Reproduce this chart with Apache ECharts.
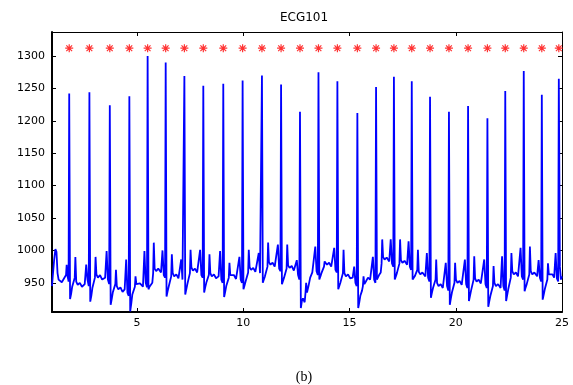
<!DOCTYPE html>
<html>
<head>
<meta charset="utf-8">
<script src="https://cdn.jsdelivr.net/npm/echarts@6/dist/echarts.min.js"></script>
<style>
html,body{margin:0;padding:0;background:#fff;}
#chart{width:573px;height:385px;}
</style>
</head>
<body>
<div id="chart"></div>
<script>
// ---- data ----
var chartTitle = 'ECG101';
var caption = '(b)';
var xRange = [1, 25];
var yRange = [905, 1337];

// detected R-peak times (seconds) -> red asterisk markers
var rTimes = [1.81, 2.76, 3.72, 4.64, 5.50, 6.35, 7.23, 8.12, 9.06, 9.97, 10.88, 11.78, 12.67, 13.54,
              14.43, 15.37, 16.25, 17.09, 17.93, 18.79, 19.68, 20.58, 21.49, 22.33, 23.20, 24.05, 24.85];
var markerLevel = 1312;

// ECG trace samples [time, amplitude]
var ecgSamples = [
  [1.00,945],[1.04,962],[1.10,985],[1.16,1002],[1.21,998],[1.26,965],[1.31,955],[1.38,958],[1.46,951],[1.55,956],[1.62,953],[1.66,962],[1.69,978],[1.72,962],[1.76,956],[1.78,952],[1.81,1242],
  [1.85,925],[1.90,933],[1.95,944],[2.03,946],[2.07,958],[2.10,990],[2.14,952],[2.21,947],[2.31,950],[2.41,944],[2.54,948],[2.61,978],[2.67,955],[2.73,945],[2.76,1244],
  [2.80,921],[2.85,930],[2.90,942],[2.98,945],[3.02,958],[3.05,990],[3.09,963],[3.16,958],[3.26,962],[3.36,955],[3.50,958],[3.57,999],[3.63,955],[3.69,948],[3.72,1224],
  [3.76,916],[3.81,925],[3.86,935],[3.94,938],[3.98,948],[4.01,970],[4.05,945],[4.12,940],[4.22,943],[4.32,936],[4.42,940],[4.49,986],[4.55,935],[4.61,930],[4.64,1238],
  [4.68,906],[4.73,918],[4.78,932],[4.86,935],[4.90,944],[4.93,960],[4.97,948],[5.04,945],[5.14,949],[5.28,944],[5.35,999],[5.41,950],[5.47,943],[5.50,1300],
  [5.54,940],[5.59,944],[5.64,945],[5.72,950],[5.76,965],[5.79,1012],[5.83,972],[5.90,968],[6.00,972],[6.13,966],[6.20,1000],[6.26,962],[6.32,958],[6.35,1290],
  [6.39,929],[6.44,937],[6.49,944],[6.57,947],[6.61,960],[6.64,994],[6.68,965],[6.75,960],[6.85,963],[6.95,957],[7.01,960],[7.08,986],[7.14,955],[7.20,952],[7.23,1269],
  [7.27,932],[7.32,940],[7.37,948],[7.45,951],[7.49,965],[7.52,1001],[7.56,974],[7.63,969],[7.73,972],[7.83,966],[7.90,969],[7.97,1001],[8.03,962],[8.09,958],[8.12,1254],
  [8.16,935],[8.21,943],[8.26,950],[8.34,953],[8.38,962],[8.41,994],[8.45,965],[8.52,960],[8.62,963],[8.72,957],[8.84,960],[8.91,999],[8.97,955],[9.03,950],[9.06,1257],
  [9.10,928],[9.15,936],[9.20,945],[9.28,948],[9.32,958],[9.35,981],[9.39,962],[9.46,959],[9.56,962],[9.66,956],[9.75,959],[9.82,990],[9.88,955],[9.94,950],[9.97,1262],
  [10.01,940],[10.06,946],[10.11,952],[10.19,955],[10.23,966],[10.26,1001],[10.30,974],[10.37,970],[10.47,973],[10.57,967],[10.66,970],[10.73,996],[10.79,965],[10.85,962],[10.88,1270],
  [10.92,950],[10.97,955],[11.02,960],[11.10,963],[11.14,975],[11.17,1012],[11.21,982],[11.28,978],[11.38,981],[11.48,975],[11.56,978],[11.63,1009],[11.69,972],[11.75,968],[11.78,1256],
  [11.82,948],[11.87,953],[11.92,958],[12.00,961],[12.04,972],[12.07,1009],[12.11,977],[12.18,973],[12.28,976],[12.38,969],[12.45,970],[12.52,985],[12.58,962],[12.64,955],[12.67,1214],
  [12.71,911],[12.76,922],[12.81,926],[12.89,920],[12.93,935],[12.96,950],[13.00,935],[13.07,945],[13.15,958],[13.25,966],[13.32,965],[13.39,1006],[13.45,968],[13.51,962],[13.54,1275],
  [13.58,955],[13.63,960],[13.68,965],[13.76,968],[13.80,975],[13.83,983],[13.87,980],[13.94,978],[14.04,981],[14.14,975],[14.21,977],[14.28,1004],[14.34,970],[14.40,966],[14.43,1261],
  [14.47,940],[14.52,945],[14.57,950],[14.65,953],[14.69,965],[14.72,1001],[14.76,965],[14.83,960],[14.93,963],[15.03,957],[15.15,958],[15.22,975],[15.28,950],[15.34,945],[15.37,1212],
  [15.41,911],[15.46,920],[15.51,930],[15.59,938],[15.63,945],[15.66,960],[15.70,948],[15.77,952],[15.87,958],[15.97,955],[16.03,958],[16.10,990],[16.16,955],[16.22,950],[16.25,1252],
  [16.29,955],[16.34,958],[16.39,962],[16.47,966],[16.51,980],[16.54,1017],[16.58,990],[16.65,986],[16.75,989],[16.87,983],[16.94,1017],[17.00,980],[17.06,975],[17.09,1268],
  [17.13,955],[17.18,960],[17.23,965],[17.31,968],[17.35,980],[17.38,1017],[17.42,985],[17.49,981],[17.59,984],[17.71,978],[17.78,1014],[17.84,975],[17.90,970],[17.93,1261],
  [17.97,955],[18.02,958],[18.07,960],[18.15,962],[18.19,970],[18.22,1001],[18.26,967],[18.33,963],[18.43,966],[18.57,960],[18.64,996],[18.70,958],[18.76,952],[18.79,1237],
  [18.83,927],[18.88,935],[18.93,942],[19.01,944],[19.05,955],[19.08,986],[19.12,950],[19.19,945],[19.29,948],[19.39,942],[19.46,945],[19.53,981],[19.59,945],[19.65,938],[19.68,1214],
  [19.72,916],[19.77,926],[19.82,935],[19.90,938],[19.94,950],[19.97,981],[20.01,955],[20.08,950],[20.18,953],[20.28,947],[20.36,950],[20.43,986],[20.49,948],[20.55,942],[20.58,1223],
  [20.62,922],[20.67,930],[20.72,938],[20.80,941],[20.84,955],[20.87,991],[20.91,957],[20.98,952],[21.08,955],[21.18,949],[21.27,952],[21.34,986],[21.40,948],[21.46,942],[21.49,1204],
  [21.53,913],[21.58,922],[21.63,930],[21.71,933],[21.75,945],[21.78,976],[21.82,950],[21.89,945],[21.99,948],[22.11,942],[22.18,991],[22.24,945],[22.30,938],[22.33,1246],
  [22.37,922],[22.42,931],[22.47,940],[22.55,943],[22.59,958],[22.62,996],[22.66,968],[22.73,963],[22.83,966],[22.93,960],[22.98,963],[23.05,1004],[23.11,960],[23.17,955],[23.20,1277],
  [23.24,937],[23.29,943],[23.34,948],[23.42,951],[23.46,963],[23.49,1006],[23.53,968],[23.60,963],[23.70,966],[23.83,960],[23.90,985],[23.96,958],[24.02,952],[24.05,1240],
  [24.09,924],[24.14,932],[24.19,940],[24.27,943],[24.31,955],[24.34,980],[24.38,963],[24.45,960],[24.55,963],[24.63,958],[24.70,996],[24.76,957],[24.82,952],[24.85,1265],
  [24.90,975],[24.95,955],[25.00,960]
];

// ---- chart ----
var chart = echarts.init(document.getElementById('chart'), null, {renderer: 'canvas'});
var plainNumber = function (v) { return String(v); };
var labelFont = {fontFamily: 'DejaVu Sans', fontSize: 11, color: '#000', formatter: plainNumber};
var asteriskPath = 'path://M5,0L5,10M0,5L10,5M1.4,1.4L8.6,8.6M8.6,1.4L1.4,8.6';

var option = {
  animation: false,
  backgroundColor: '#fff',
  grid: {left: 52, right: 11, top: 32, bottom: 73, containLabel: false},
  xAxis: [{
    type: 'value', min: xRange[0], max: xRange[1], splitNumber: 5,
    axisLine: {show: true, onZero: false, lineStyle: {color: '#000', width: 2}},
    axisTick: {show: true, inside: true, length: 4, lineStyle: {color: '#000'}},
    axisLabel: Object.assign({show: true, margin: 6, showMinLabel: false}, labelFont),
    splitLine: {show: false}
  }, {
    type: 'value', min: xRange[0], max: xRange[1], splitNumber: 5, position: 'top',
    axisLine: {show: true, onZero: false, lineStyle: {color: '#000', width: 1}},
    axisTick: {show: true, inside: true, length: 4, lineStyle: {color: '#000'}},
    axisLabel: {show: false}, splitLine: {show: false}
  }],
  yAxis: [{
    type: 'value', min: yRange[0], max: yRange[1], splitNumber: 8,
    axisLine: {show: true, onZero: false, lineStyle: {color: '#000', width: 2}},
    axisTick: {show: true, inside: true, length: 4, lineStyle: {color: '#000'}},
    axisLabel: Object.assign({show: true, margin: 7, showMinLabel: false, showMaxLabel: false}, labelFont),
    splitLine: {show: false}
  }, {
    type: 'value', min: yRange[0], max: yRange[1], splitNumber: 8, position: 'right',
    axisLine: {show: true, onZero: false, lineStyle: {color: '#000', width: 1}},
    axisTick: {show: true, inside: true, length: 4, lineStyle: {color: '#000'}},
    axisLabel: {show: false}, splitLine: {show: false}
  }],
  series: [{
    type: 'line', name: 'ECG', data: ecgSamples, xAxisIndex: 0, yAxisIndex: 0,
    showSymbol: false, symbol: 'none',
    lineStyle: {color: '#0000ff', width: 1.8},
    clip: true
  }, {
    type: 'scatter', name: 'R peaks', xAxisIndex: 0, yAxisIndex: 0,
    data: rTimes.map(function (t) { return [t, markerLevel]; }),
    symbol: asteriskPath, symbolSize: 8,
    itemStyle: {color: 'rgba(0,0,0,0)', borderColor: '#ff0000', borderWidth: 1.2}
  }],
  graphic: [{
    type: 'text', x: 304, y: 18,
    style: {text: chartTitle, fontFamily: 'DejaVu Sans', fontSize: 12, fill: '#000', align: 'center', verticalAlign: 'middle'}
  }, {
    type: 'text', x: 304, y: 377,
    style: {text: caption, fontFamily: 'Liberation Serif', fontSize: 14, fill: '#000', align: 'center', verticalAlign: 'middle'}
  }]
};
chart.setOption(option);
</script>
</body>
</html>
